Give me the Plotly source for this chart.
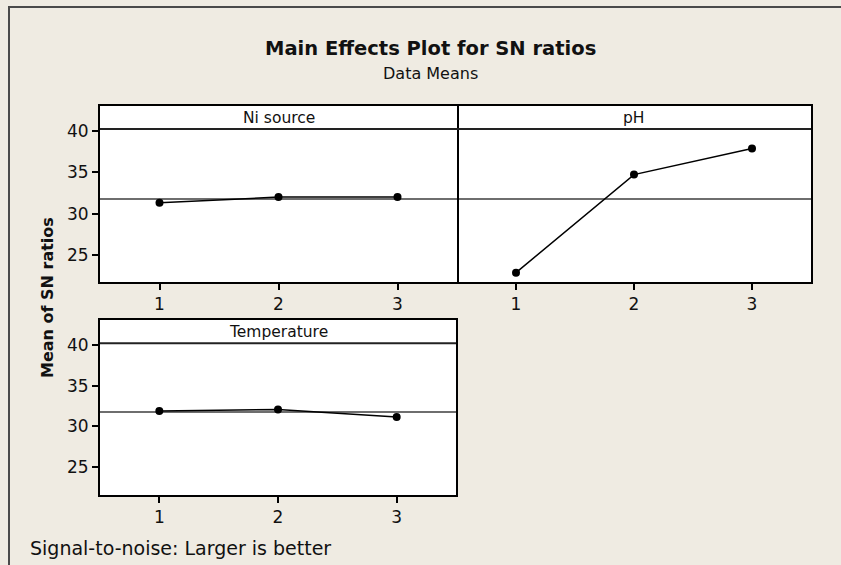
import plotly.graph_objects as go

# factor levels and mean SN ratios
levels = [1, 2, 3]
ni_source = [31.32, 32.0, 32.0]
ph = [22.88, 34.72, 37.88]
temperature = [31.9, 32.07, 31.17]

panels = ["Ni source", "pH", "Temperature"]
series = [ni_source, ph, temperature]
grand_mean = sum(ni_source + ph + temperature) / 9

W, H = 841, 565
BG = "#EFEBE2"
FONT = "DejaVu Sans"


def px_x(v):
    return v / W


def px_y(v):
    return 1 - v / H


# panel boxes in pixels: (left, right, top, bottom)
boxes = [(100, 457, 106, 282), (457, 811, 106, 282), (100, 456, 320, 495)]
yranges = [[21.75, 43.0], [21.75, 43.0], [21.6, 43.05]]
header_y = [40.22, 40.22, 40.2]

fig = go.Figure()

for i, (name, vals) in enumerate(zip(panels, series)):
    ax = "" if i == 0 else str(i + 1)
    fig.add_trace(go.Scatter(
        x=levels, y=vals, mode="lines+markers",
        line=dict(color="black", width=1.5),
        marker=dict(color="black", size=8),
        xaxis="x" + ax, yaxis="y" + ax, showlegend=False,
        cliponaxis=False,
    ))
    l, r, t, b = boxes[i]
    line_style = dict(showline=True, linecolor="black", linewidth=2,
                      showgrid=False, zeroline=False)
    tick_style = dict(ticks="outside", ticklen=6, tickwidth=1.5, tickcolor="black",
                      tickfont=dict(family=FONT, size=17, color="#111111"))
    xaxis = dict(domain=[px_x(l), px_x(r)], range=[0.5, 3.5], tickvals=levels,
                 anchor="y" + ax, mirror=True, **line_style, **tick_style)
    if i == 1:
        # right panel shares its left edge with the left panel
        yaxis = dict(domain=[px_y(b), px_y(t)], range=yranges[i], anchor="x" + ax,
                     side="right", mirror=False, showticklabels=False, ticks="",
                     **line_style)
    else:
        yaxis = dict(domain=[px_y(b), px_y(t)], range=yranges[i], anchor="x" + ax,
                     tickvals=[25, 30, 35, 40], mirror=True,
                     **line_style, **tick_style)
    fig.update_layout(**{"xaxis" + ax: xaxis, "yaxis" + ax: yaxis})

    # mean reference line
    fig.add_shape(type="line", xref="x" + ax + " domain", yref="y" + ax,
                  x0=0, x1=1, y0=grand_mean, y1=grand_mean,
                  line=dict(color="#6E6E6E", width=1.8), layer="below")
    # header strip
    fig.add_shape(type="line", xref="x" + ax + " domain", yref="y" + ax,
                  x0=0, x1=1, y0=header_y[i], y1=header_y[i],
                  line=dict(color="#222222", width=2))
    fig.add_annotation(
        text=name, xref="x" + ax + " domain", yref="y" + ax,
        x=0.5, y=(header_y[i] + yranges[i][1]) / 2, showarrow=False,
        font=dict(family=FONT, size=15.5, color="#111111"), yanchor="middle")

# outer frame (only top and left visible)
fig.add_shape(type="rect", xref="paper", yref="paper",
              x0=px_x(9), x1=1.05, y0=-0.05, y1=px_y(7),
              line=dict(color="#4A4A4A", width=2), layer="below")

fig.add_annotation(text="<b>Main Effects Plot for SN ratios</b>", xref="paper", yref="paper",
                   x=px_x(430), y=px_y(48), showarrow=False, yanchor="middle",
                   font=dict(family=FONT, size=19.5, color="#111111"))
fig.add_annotation(text="Data Means", xref="paper", yref="paper",
                   x=px_x(430), y=px_y(73), showarrow=False, yanchor="middle",
                   font=dict(family=FONT, size=16, color="#111111"))
fig.add_annotation(text="<b>Mean of SN ratios</b>", xref="paper", yref="paper",
                   x=px_x(47), y=px_y(298), showarrow=False, textangle=-90,
                   xanchor="center", yanchor="middle",
                   font=dict(family=FONT, size=16, color="#111111"))
fig.add_annotation(text="Signal-to-noise: Larger is better", xref="paper", yref="paper",
                   x=px_x(28), y=px_y(548), showarrow=False, xanchor="left",
                   yanchor="middle",
                   font=dict(family=FONT, size=19, color="#111111"))

fig.update_layout(
    width=W, height=H,
    margin=dict(l=0, r=0, t=0, b=0),
    paper_bgcolor=BG, plot_bgcolor="white",
    showlegend=False,
)

fig.write_html("out.html", config={"displayModeBar": False},
               post_script="document.body.style.margin='0';")
